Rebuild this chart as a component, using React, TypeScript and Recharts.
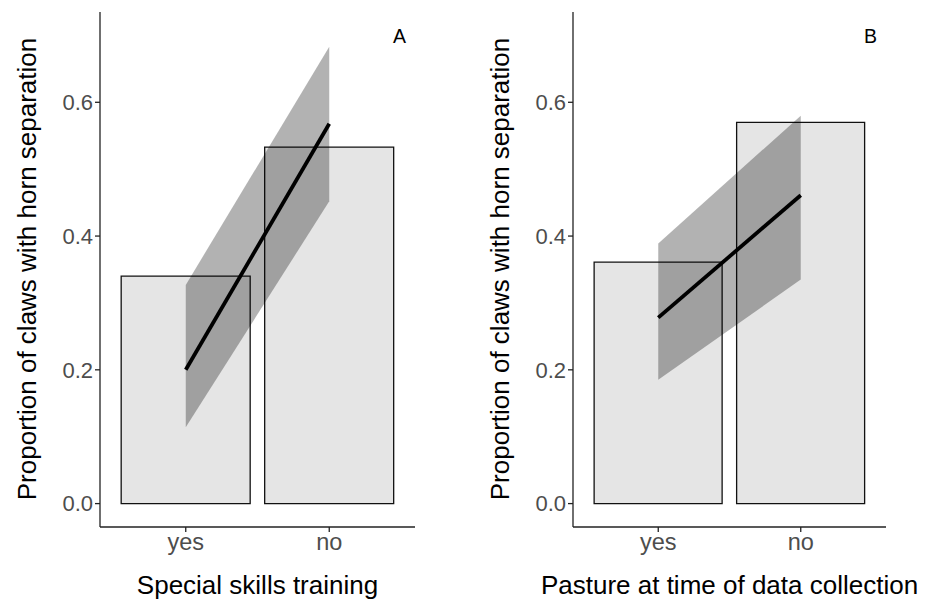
import React from "react";
import {
  ComposedChart,
  Bar,
  Line,
  Area,
  XAxis,
  YAxis,
} from "recharts";

// categories shared by both panels
const groups = ["yes", "no"];
const yTicks = [0, 0.2, 0.4, 0.6];

// panel A: special skills training
const propA = [0.34, 0.533];
const fitA = [0.2, 0.568];
const lowA = [0.114, 0.452];
const highA = [0.327, 0.683];

// panel B: pasture at time of data collection
const propB = [0.361, 0.57];
const fitB = [0.278, 0.461];
const lowB = [0.185, 0.335];
const highB = [0.389, 0.58];

const buildRows = (prop: number[], fit: number[], low: number[], high: number[]) =>
  groups.map((g, i) => ({
    group: g,
    prop: prop[i],
    fit: fit[i],
    band: [low[i], high[i]],
  }));

const font = "Arial, 'Liberation Sans', sans-serif";

interface PanelProps {
  left: number;
  letter: string;
  xTitle: string;
  rows: ReturnType<typeof buildRows>;
  axisLeft: number;
  axisRight: number;
}

const Panel: React.FC<PanelProps> = ({ left, letter, xTitle, rows, axisLeft, axisRight }) => {
  const w = 463;
  const plotW = axisRight - axisLeft;
  // ggplot discrete expansion: 0.6 units each side of 2 categories
  const pad = Math.round(plotW * 0.0455);
  return (
    <div style={{ position: "absolute", left, top: 0, width: w, height: 601 }}>
      <ComposedChart
        width={w}
        height={601}
        data={rows}
        margin={{ top: 12, right: w - axisRight, bottom: 34, left: 0 }}
        barCategoryGap="5%"
      >
        <XAxis
          dataKey="group"
          height={40}
          padding={{ left: pad, right: pad }}
          stroke="#222"
          strokeWidth={1.3}
          tickSize={5}
          tickMargin={1}
          tick={{ fill: "#4D4D4D", fontSize: 23.5, fontFamily: font }}
        />
        <YAxis
          width={axisLeft}
          type="number"
          domain={[-0.035, 0.735]}
          ticks={yTicks}
          allowDataOverflow
          tickFormatter={(v: number) => v.toFixed(1)}
          stroke="#222"
          strokeWidth={1.3}
          tickSize={5}
          tickMargin={2}
          tick={{ fill: "#4D4D4D", fontSize: 22, fontFamily: font }}
        />
        <Bar
          dataKey="prop"
          fill="#E5E5E5"
          stroke="#111"
          strokeWidth={1.3}
          isAnimationActive={false}
          zIndex={100}
        />
        <Area
          type="linear"
          dataKey="band"
          fill="#000"
          fillOpacity={0.3}
          stroke="none"
          isAnimationActive={false}
          zIndex={300}
        />
        <Line
          type="linear"
          dataKey="fit"
          stroke="#000"
          strokeWidth={3.8}
          dot={false}
          isAnimationActive={false}
          zIndex={400}
        />
      </ComposedChart>
      <div
        style={{
          position: "absolute",
          left: axisRight - 22,
          top: 27,
          fontFamily: font,
          fontSize: 19.5,
          lineHeight: 1,
          color: "#000",
        }}
      >
        {letter}
      </div>
      <div
        style={{
          position: "absolute",
          left: axisLeft - 73,
          top: 269,
          width: 0,
          height: 0,
        }}
      >
        <div
          style={{
            position: "absolute",
            left: 0,
            top: 0,
            transform: "translate(-50%, -50%) rotate(-90deg)",
            whiteSpace: "nowrap",
            fontFamily: font,
            fontSize: 26,
            lineHeight: 1,
            color: "#000",
          }}
        >
          Proportion of claws with horn separation
        </div>
      </div>
      <div
        style={{
          position: "absolute",
          left: axisLeft + plotW / 2,
          top: 572,
          transform: "translateX(-50%)",
          whiteSpace: "nowrap",
          fontFamily: font,
          fontSize: 26,
          lineHeight: 1,
          color: "#000",
        }}
      >
        {xTitle}
      </div>
    </div>
  );
};

const App: React.FC = () => {
  return (
    <div
      style={{
        position: "absolute",
        left: 0,
        top: 0,
        width: 926,
        height: 601,
        background: "#fff",
        overflow: "hidden",
      }}
    >
      <Panel
        left={0}
        letter="A"
        xTitle="Special skills training"
        rows={buildRows(propA, fitA, lowA, highA)}
        axisLeft={100}
        axisRight={415}
      />
      <Panel
        left={463}
        letter="B"
        xTitle="Pasture at time of data collection"
        rows={buildRows(propB, fitB, lowB, highB)}
        axisLeft={110}
        axisRight={423}
      />
    </div>
  );
};

export default App;
